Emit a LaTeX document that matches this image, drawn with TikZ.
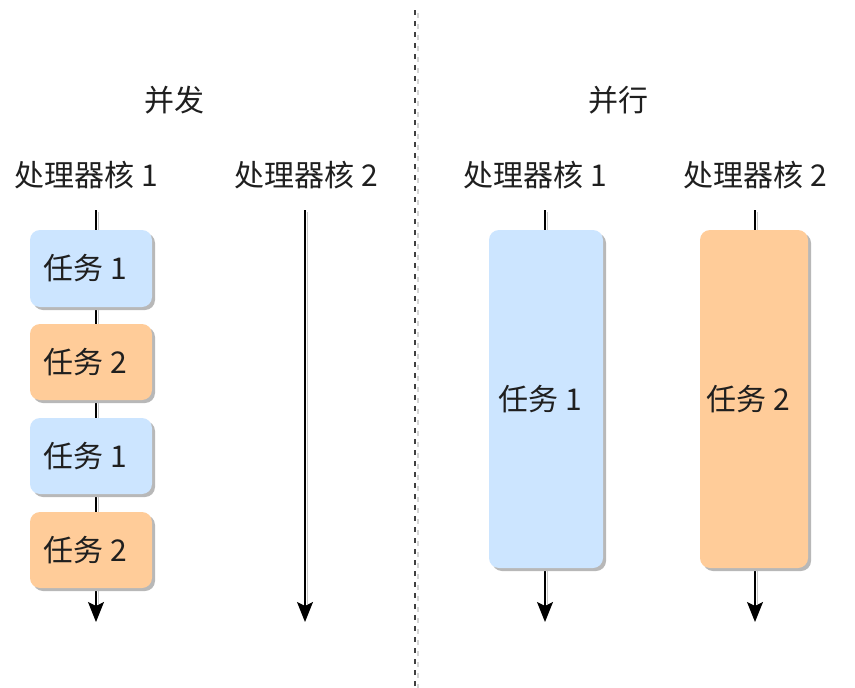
\documentclass[tikz,border=0pt]{standalone}
\usepackage{fontspec}
\newfontfamily\cjk{Noto Sans CJK SC}
\usetikzlibrary{arrows.meta,shadows}
\definecolor{taskblue}{HTML}{CCE5FF}
\definecolor{taskorange}{HTML}{FFCC99}
\definecolor{shadowgray}{HTML}{B8B8B8}
\tikzset{
  lbl/.style={font=\cjk\fontsize{30}{33}\selectfont, text=black!88, inner sep=0pt},
  task/.style={lbl, rounded corners=10pt, draw=none,
    drop shadow={shadow xshift=3pt, shadow yshift=-3pt, fill=shadowgray, opacity=1}},
  bluebox/.style={task, fill=taskblue},
  orangebox/.style={task, fill=taskorange},
  tline/.style={line width=1.3pt, black},
  tarrow/.style={tline, -{Stealth[length=20pt,width=16pt,inset=4pt]}},
  lshadow/.style={line width=1.3pt, shadowgray!80},
}
\newcommand{\tk}[1]{#1\hspace*{12pt}}
\begin{document}
\begin{tikzpicture}[x=1pt,y=-1pt]
\useasboundingbox (0,0) rectangle (855,688);
\fill[white] (0,0) rectangle (855,688);

% divider
\draw[shadowgray!60, line width=1.1pt, dash pattern=on 5pt off 6pt] (418,13) -- (418,688);
\draw[black!75, line width=1.1pt, dash pattern=on 5pt off 6pt] (415,10) -- (415,688);

% titles
\node[lbl] (tconc) at (174,100) {并发};
\node[lbl] (tpar) at (618,100) {并行};
\node[lbl] (l1) at (86,175) {处理器核 1};
\node[lbl] (l2) at (306,175) {处理器核 2};
\node[lbl] (r1) at (535,175) {处理器核 1};
\node[lbl] (r2) at (755,175) {处理器核 2};

% coordinates
\coordinate (a1t) at (96,210);
\coordinate (a1b) at (96,622);
\coordinate (a2t) at (305,210);
\coordinate (a2b) at (305,622);
\coordinate (b1t) at (545,210);
\coordinate (b1b) at (545,622);
\coordinate (b2t) at (755,210);
\coordinate (b2b) at (755,622);

% line shadows
\draw[lshadow] (98.5,212) -- (98.5,604);
\draw[lshadow] (307.5,212) -- (307.5,604);
\draw[lshadow] (547.5,212) -- (547.5,604);
\draw[lshadow] (757.5,212) -- (757.5,604);

% lines
\draw[tline] (a1t) -- (96,420);
\draw[tarrow] (96,400) -- (a1b);
\draw[tarrow] (a2t) -- (a2b);
\draw[tarrow] (b1t) -- (b1b);
\draw[tarrow] (b2t) -- (b2b);

% concurrent tasks
\node[bluebox, minimum width=122pt, minimum height=77pt] (c1) at (91,268.5) {\tk{任务 1}};
\node[orangebox, minimum width=122pt, minimum height=76pt] (c2) at (91,362) {\tk{任务 2}};
\node[bluebox, minimum width=122pt, minimum height=76pt] (c3) at (91,456) {\tk{任务 1}};
\node[orangebox, minimum width=122pt, minimum height=76pt] (c4) at (91,550) {\tk{任务 2}};

% parallel tasks
\node[bluebox, minimum width=114pt, minimum height=338pt] (p1) at (546,399) {\tk{任务 1}};
\node[orangebox, minimum width=108pt, minimum height=338pt] (p2) at (754,399) {\tk{任务 2}};
\end{tikzpicture}
\end{document}
